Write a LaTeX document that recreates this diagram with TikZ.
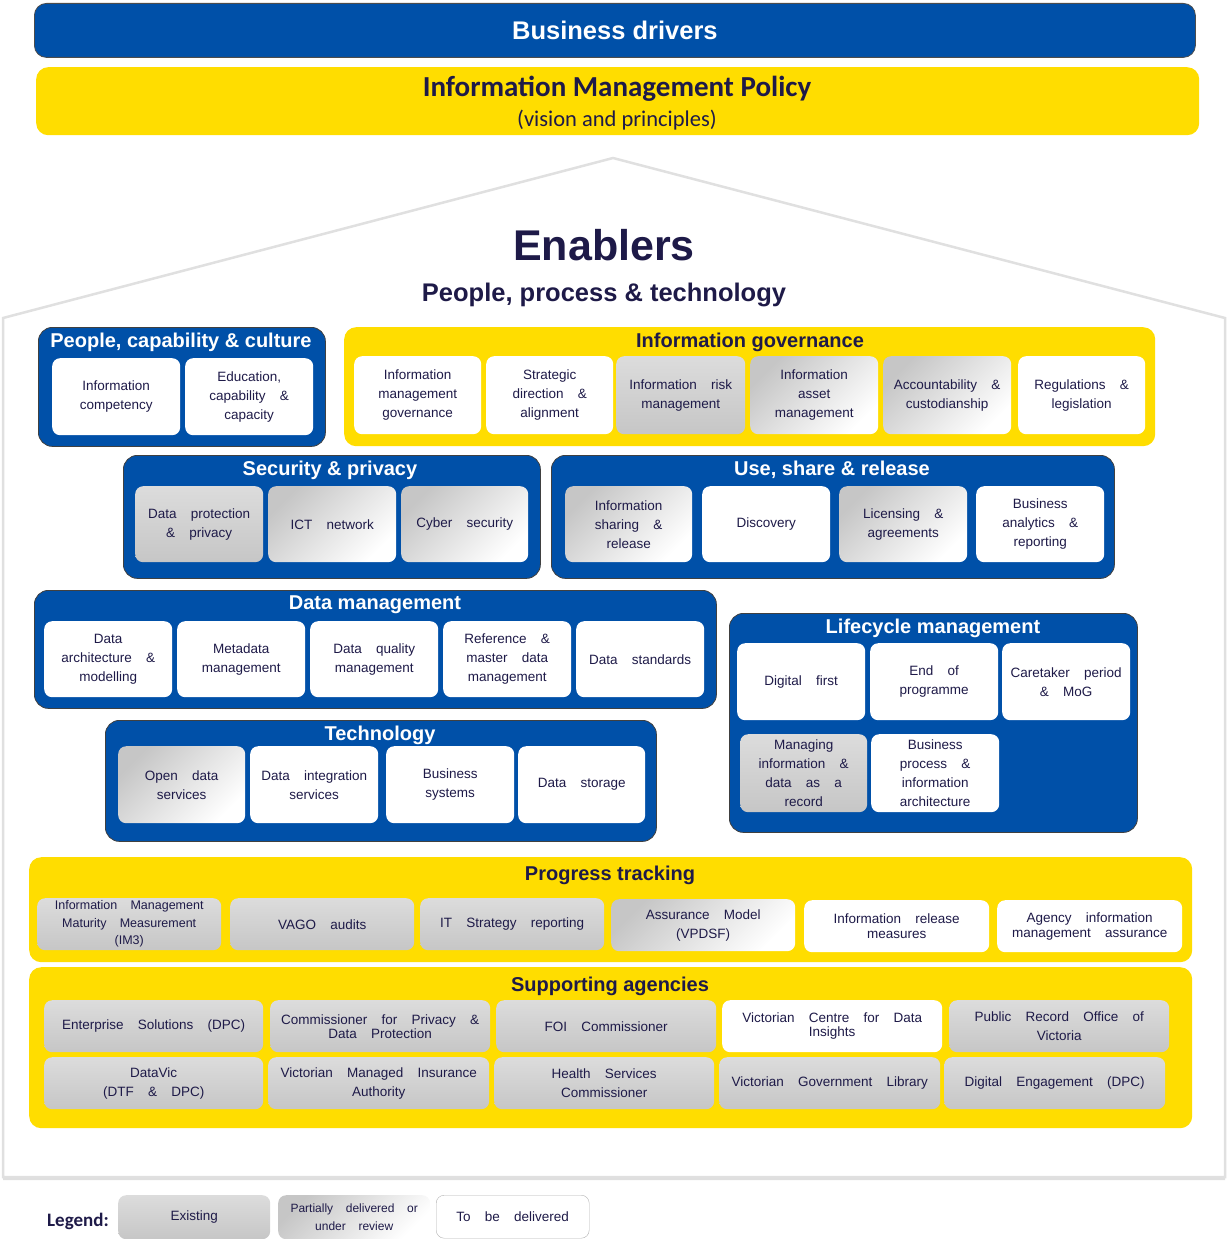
\documentclass[tikz,border=0pt]{standalone}
\usepackage{fontspec}
\setmainfont{Liberation Sans}
\newfontfamily\calfont{Carlito}
\newfontfamily\cellfont{Liberation Sans}[WordSpace=3.8]
\usepackage{tikz}
\usetikzlibrary{positioning,shadows}

\definecolor{imblue}{RGB}{0,80,168}
\definecolor{imyellow}{RGB}{255,221,0}
\definecolor{imnavy}{RGB}{30,26,72}
\definecolor{imgreytop}{RGB}{220,220,220}
\definecolor{imgreybot}{RGB}{198,198,198}

\tikzset{
  cell/.style={anchor=north west, rounded corners=8pt, align=center, text=imnavy,
    inner sep=1pt, font=\cellfont\fontsize{13.5}{19}\selectfont},
  existing/.style={cell, top color=imgreytop, bottom color=imgreybot},
  partial/.style={cell, top color=imgreybot, bottom color=white, shading angle=45},
  todo/.style={cell, fill=white},
  bluebox/.style={anchor=north west, rounded corners=14pt, fill=imblue, draw=black!75, line width=0.8pt},
  yellowbox/.style={anchor=north west, rounded corners=12pt, fill=imyellow},
  bluetitle/.style={text=white, font=\bfseries\fontsize{20}{22}\selectfont},
  yellowtitle/.style={text=imnavy, font=\bfseries\fontsize{20}{22}\selectfont},
}

\begin{document}
\begin{tikzpicture}[x=1pt, y=-1pt]
  \useasboundingbox (0,0) rectangle (1227,1239);

  % house
  \draw[fill=white, draw=black!12, line width=2.5pt,
    drop shadow={opacity=0.25, shadow xshift=0pt, shadow yshift=-3pt}]
    (3,318) -- (613,158) -- (1225,318) -- (1225,1177) -- (3,1177) -- cycle;

  % top bars
  \node[anchor=north west, rounded corners=12pt, fill=imblue, draw=black!70, line width=0.8pt,
    minimum width=1161pt, minimum height=54pt, text=white, font=\bfseries\fontsize{25.5}{27}\selectfont]
    (drivers) at (34,3) {Business drivers};
  \node[yellowbox, minimum width=1163pt, minimum height=68pt] (policy) at (36,67) {};
  \node[text=imnavy, font=\calfont\bfseries\fontsize{29}{31}\selectfont] (policytitle) at (617,89) {Information Management Policy};
  \node[text=imnavy, font=\calfont\fontsize{22.5}{24}\selectfont] (policysub) at (617,120) {(vision and principles)};

  \node[text=imnavy, font=\bfseries\fontsize{43}{45}\selectfont] (enablers) at (604,245) {Enablers};
  \node[text=imnavy, font=\bfseries\fontsize{25.5}{27}\selectfont] (ppt) at (604,295) {People, process \& technology};

  % people, capability & culture
  \node[bluebox, minimum width=287pt, minimum height=119pt] (pcc) at (38,327) {};
  \node[bluetitle] (pcctitle) at (181,342) {People, capability \& culture};
  \node[todo, minimum width=128pt, minimum height=77pt] (pcc1) at (52,358) {Information\\competency};
  \node[todo, minimum width=128pt, minimum height=77pt] (pcc2) at (185,358) {Education,\\capability \&\\capacity};

  % information governance
  \node[yellowbox, minimum width=811pt, minimum height=119pt] (ig) at (344,327) {};
  \node[yellowtitle] (igtitle) at (750,342) {Information governance};
  \node[todo, minimum width=127pt, minimum height=78pt] (ig1) at (354,356) {Information\\management\\governance};
  \node[todo, minimum width=127pt, minimum height=78pt] (ig2) at (486,356) {Strategic\\direction \&\\alignment};
  \node[existing, minimum width=129pt, minimum height=78pt] (ig3) at (616,356) {Information risk\\management};
  \node[partial, minimum width=128pt, minimum height=78pt] (ig4) at (750,356) {Information\\asset\\management};
  \node[partial, minimum width=128pt, minimum height=78pt] (ig5) at (883,356) {Accountability \&\\custodianship};
  \node[todo, minimum width=127pt, minimum height=78pt] (ig6) at (1018,356) {Regulations \&\\legislation};

  % security & privacy
  \node[bluebox, minimum width=417pt, minimum height=123pt] (sp) at (123,455) {};
  \node[bluetitle] (sptitle) at (330,470) {Security \& privacy};
  \node[existing, minimum width=128pt, minimum height=76pt] (sp1) at (135,486) {Data protection\\\& privacy};
  \node[partial, minimum width=128pt, minimum height=76pt] (sp2) at (268,486) {ICT network};
  \node[partial, minimum width=127pt, minimum height=76pt] (sp3) at (401,486) {Cyber security};

  % use, share & release
  \node[bluebox, minimum width=563pt, minimum height=123pt] (usr) at (551,455) {};
  \node[bluetitle] (usrtitle) at (832,470) {Use, share \& release};
  \node[partial, minimum width=127pt, minimum height=76pt] (usr1) at (565,486) {Information\\sharing \&\\release};
  \node[todo, minimum width=128pt, minimum height=76pt] (usr2) at (702,486) {Discovery};
  \node[partial, minimum width=128pt, minimum height=76pt] (usr3) at (839,486) {Licensing \&\\agreements};
  \node[todo, minimum width=128pt, minimum height=76pt] (usr4) at (976,486) {Business\\analytics \&\\reporting};

  % data management
  \node[bluebox, minimum width=682pt, minimum height=118pt] (dm) at (34,590) {};
  \node[bluetitle] (dmtitle) at (375,605) {Data management};
  \node[todo, minimum width=128pt, minimum height=76pt] (dm1) at (44,621) {Data\\architecture \&\\modelling};
  \node[todo, minimum width=128pt, minimum height=76pt] (dm2) at (177,621) {Metadata\\management};
  \node[todo, minimum width=128pt, minimum height=76pt] (dm3) at (310,621) {Data quality\\management};
  \node[todo, minimum width=128pt, minimum height=76pt] (dm4) at (443,621) {Reference \&\\master data\\management};
  \node[todo, minimum width=128pt, minimum height=76pt] (dm5) at (576,621) {Data standards};

  % technology
  \node[bluebox, minimum width=551pt, minimum height=121pt] (tech) at (105,720) {};
  \node[bluetitle] (techtitle) at (380,735) {Technology};
  \node[partial, minimum width=127pt, minimum height=77pt] (tech1) at (118,746) {Open data\\services};
  \node[todo, minimum width=128pt, minimum height=77pt] (tech2) at (250,746) {Data integration\\services};
  \node[todo, minimum width=128pt, minimum height=77pt] (tech3) at (386,746) {Business\\systems};
  \node[todo, minimum width=127pt, minimum height=77pt] (tech4) at (518,746) {Data storage};

  % lifecycle management
  \node[bluebox, minimum width=408pt, minimum height=219pt] (lm) at (729,613) {};
  \node[bluetitle] (lmtitle) at (933,628) {Lifecycle management};
  \node[todo, minimum width=128pt, minimum height=77pt] (lm1) at (737,643) {Digital first};
  \node[todo, minimum width=128pt, minimum height=77pt] (lm2) at (870,643) {End of\\programme};
  \node[todo, minimum width=128pt, minimum height=77pt] (lm3) at (1002,643) {Caretaker period\\\& MoG};
  \node[existing, minimum width=127pt, minimum height=78pt] (lm4) at (740,734) {Managing\\information \&\\data as a\\record};
  \node[todo, minimum width=128pt, minimum height=78pt] (lm5) at (871,734) {Business\\process \&\\information\\architecture};

  % progress tracking
  \node[yellowbox, minimum width=1163pt, minimum height=105pt] (pt) at (29,857) {};
  \node[yellowtitle] (pttitle) at (610,875) {Progress tracking};
  \node[existing, minimum width=184pt, minimum height=52pt, font=\cellfont\fontsize{12.5}{17.5}\selectfont] (pt1) at (37,898) {Information Management\\Maturity Measurement\\(IM3)};
  \node[existing, minimum width=184pt, minimum height=52pt] (pt2) at (230,898) {VAGO audits};
  \node[existing, minimum width=184pt, minimum height=52pt] (pt3) at (420,898) {IT Strategy reporting};
  \node[partial, minimum width=184pt, minimum height=52pt] (pt4) at (611,899) {Assurance Model\\(VPDSF)};
  \node[todo, minimum width=185pt, minimum height=52pt, font=\cellfont\fontsize{13.5}{15}\selectfont] (pt5) at (804,900) {Information release\\measures};
  \node[todo, minimum width=185pt, minimum height=52pt, font=\cellfont\fontsize{13.5}{15}\selectfont] (pt6) at (997,900) {Agency information\\management assurance};

  % supporting agencies
  \node[yellowbox, minimum width=1163pt, minimum height=161pt] (sa) at (29,967) {};
  \node[yellowtitle] (satitle) at (610,986) {Supporting agencies};
  \node[existing, minimum width=219pt, minimum height=52pt] (sa1) at (44,1000) {Enterprise Solutions (DPC)};
  \node[existing, minimum width=220pt, minimum height=52pt, font=\cellfont\fontsize{13.5}{14}\selectfont] (sa2) at (270,1000) {Commissioner for Privacy \&\\Data Protection};
  \node[existing, minimum width=220pt, minimum height=52pt] (sa3) at (496,1000) {FOI Commissioner};
  \node[todo, minimum width=220pt, minimum height=52pt, font=\cellfont\fontsize{13.5}{14}\selectfont] (sa4) at (722,1000) {Victorian Centre for Data\\Insights};
  \node[existing, minimum width=220pt, minimum height=52pt] (sa5) at (949,1000) {Public Record Office of\\Victoria};
  \node[existing, minimum width=219pt, minimum height=52pt] (sa6) at (44,1057) {DataVic\\(DTF \& DPC)};
  \node[existing, minimum width=221pt, minimum height=52pt] (sa7) at (268,1057) {Victorian Managed Insurance\\Authority};
  \node[existing, minimum width=220pt, minimum height=52pt] (sa8) at (494,1057) {Health Services\\Commissioner};
  \node[existing, minimum width=221pt, minimum height=52pt] (sa9) at (719,1057) {Victorian Government Library};
  \node[existing, minimum width=221pt, minimum height=52pt] (sa10) at (944,1057) {Digital Engagement (DPC)};

  % legend
  \node[text=imnavy, font=\calfont\bfseries\fontsize{19}{21}\selectfont] (legend) at (78,1221) {Legend:};
  \node[existing, minimum width=152pt, minimum height=44pt] (lg1) at (118,1195) {Existing};
  \node[partial, minimum width=152pt, minimum height=44pt, font=\cellfont\fontsize{12}{18}\selectfont] (lg2) at (278,1195) {Partially delivered or\\under review};
  \node[todo, draw=black!30, minimum width=153pt, minimum height=43pt] (lg3) at (436,1195) {To be delivered};
\end{tikzpicture}
\end{document}
